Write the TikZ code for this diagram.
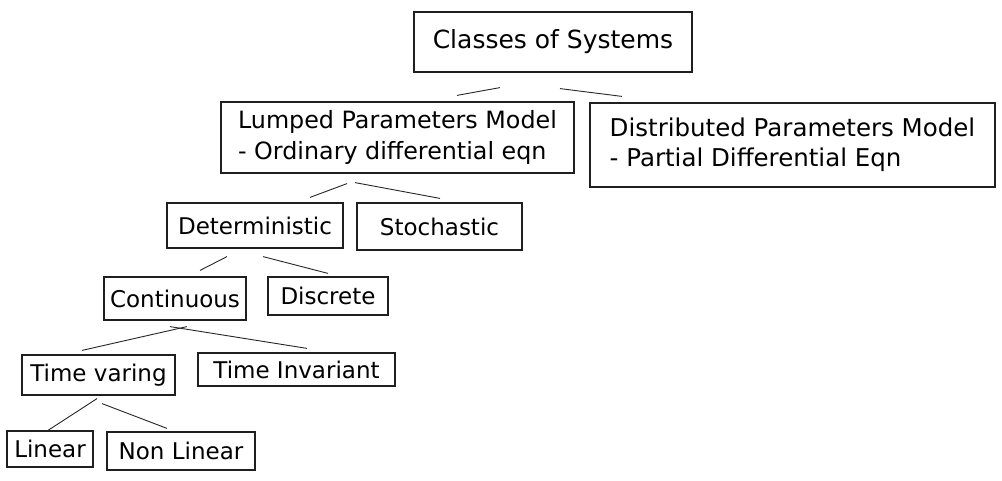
\documentclass[tikz,border=0pt]{standalone}
\usepackage{fontspec}
\setmainfont{DejaVu Sans}
\usepackage{tikz}
\usetikzlibrary{calc}

\tikzset{
	sysbox/.style={draw=black!88, line width=1.2pt, inner sep=0pt, align=left,
		font=\fontsize{23}{31}\selectfont},
	branch/.style={draw=black!85, line width=0.9pt}
}

\begin{document}
\begin{tikzpicture}[x=1pt, y=-1pt]
					\useasboundingbox (0,0) rectangle (1002,481);

					\begin{scope}
						\node[sysbox, minimum width=278, minimum height=60, font=\fontsize{25}{31}\selectfont] (classes) at (553,42) {Classes of Systems};
						\node[sysbox, minimum width=353, minimum height=71, font=\fontsize{23.8}{31}\selectfont] (lumped) at (397.5,137.5) {Lumped Parameters Model\\- Ordinary differential eqn};
						\node[sysbox, minimum width=405, minimum height=84, font=\fontsize{24.5}{30}\selectfont] (distrib) at (792.5,145) {Distributed Parameters Model\\- Partial Differential Eqn};
					\end{scope}

					\begin{scope}
						\node[sysbox, minimum width=176, minimum height=45] (determ) at (255,225.5) {Deterministic};
						\node[sysbox, minimum width=165, minimum height=47] (stoch) at (439.5,226.5) {Stochastic};
						\node[sysbox, minimum width=142, minimum height=43] (contin) at (175,298.5) {Continuous};
						\node[sysbox, minimum width=120, minimum height=38] (discr) at (328,296) {Discrete};
					\end{scope}

					\begin{scope}
						\node[sysbox, minimum width=153, minimum height=40] (tvar) at (98.5,375) {Time varing};
						\node[sysbox, minimum width=197, minimum height=33] (tinv) at (296.5,369.5) {Time Invariant};
						\node[sysbox, minimum width=86, minimum height=36] (linear) at (50,449) {Linear};
						\node[sysbox, minimum width=148, minimum height=38] (nonlin) at (181,451) {Non Linear};
					\end{scope}

					\begin{scope}
						\draw[branch] ($(classes.south)+(-53,15)$) -- ($(lumped.north)+(59.5,-6)$);
						\draw[branch] ($(classes.south)+(7,16)$) -- ($(distrib.north)+(-170.5,-6)$);
						\draw[branch] ($(lumped.south)+(-50.5,10)$) -- ($(determ.north)+(55,-5)$);
						\draw[branch] ($(lumped.south)+(-42.5,9)$) -- ($(stoch.north)+(0.5,-4)$);
						\draw[branch] ($(determ.south)+(-28,8)$) -- ($(contin.north)+(25,-6)$);
						\draw[branch] ($(determ.south)+(8,8)$) -- ($(discr.north)+(0,-3)$);
						\draw[branch] ($(contin.south)+(12,6)$) -- ($(tvar.north)+(-16.5,-4)$);
						\draw[branch] ($(contin.south)+(-5,6)$) -- ($(tinv.north)+(10.5,-4)$);
						\draw[branch] ($(tvar.south)+(-1.5,3)$) -- ($(linear.north)+(-2,0)$);
						\draw[branch] ($(tvar.south)+(3.5,8)$) -- ($(nonlin.north)+(-14,-3)$);
					\end{scope}
				\end{tikzpicture}
\end{document}
